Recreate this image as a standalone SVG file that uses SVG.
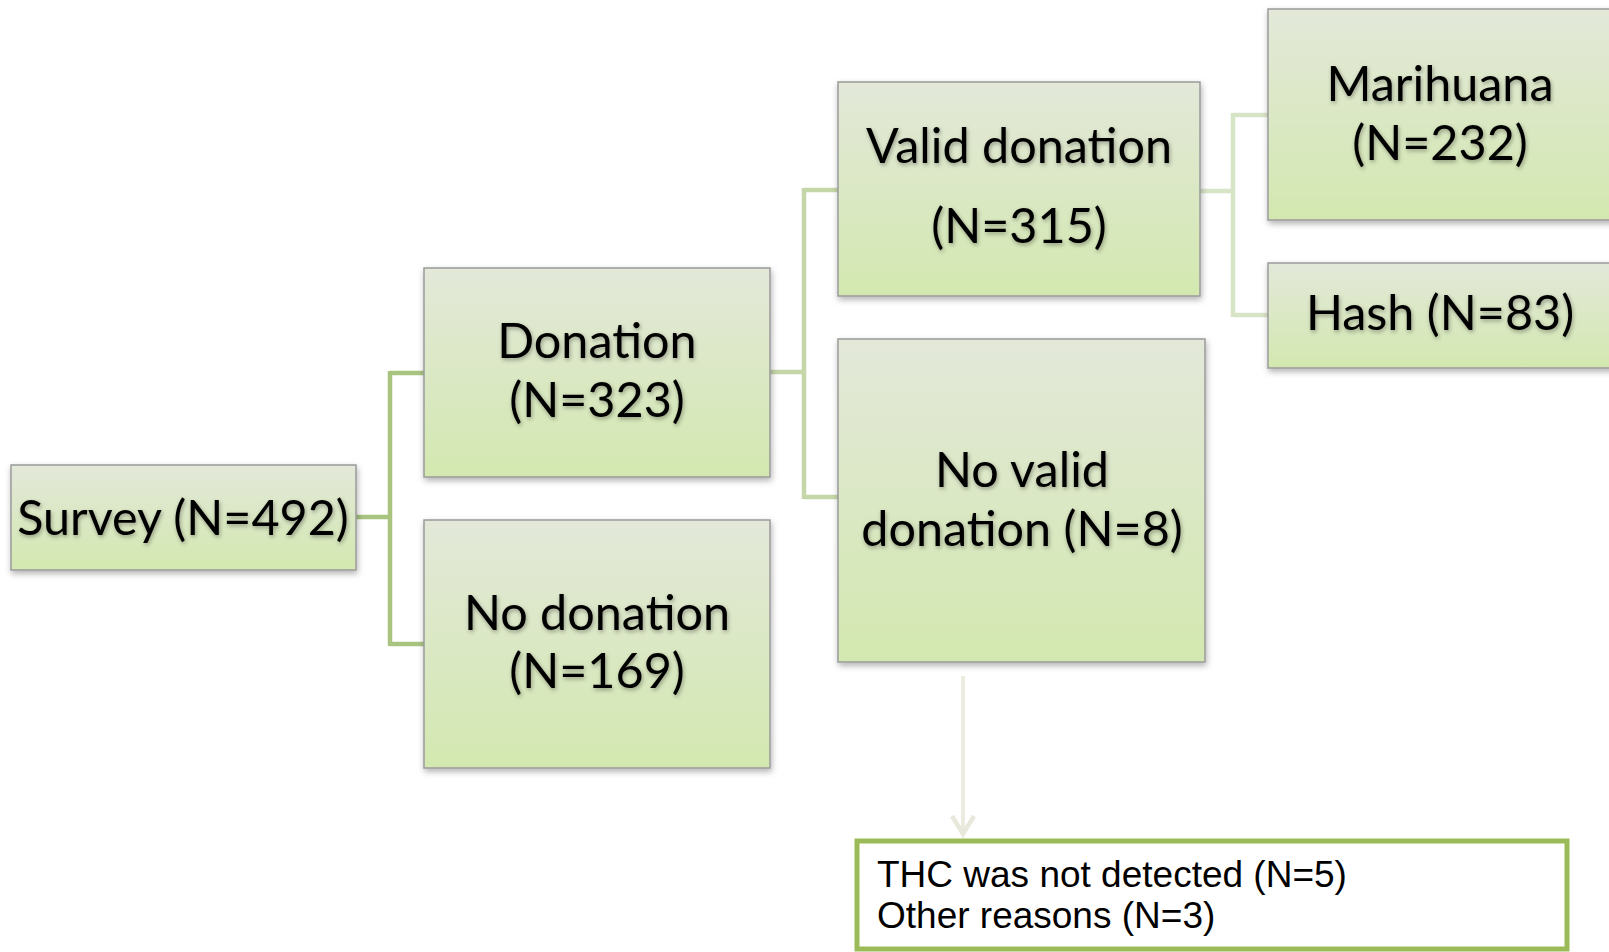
<svg xmlns="http://www.w3.org/2000/svg" width="1609" height="952" viewBox="0 0 1609 952">
<defs>
<linearGradient id="g" x1="0" y1="0" x2="0" y2="1">
<stop offset="0" stop-color="#e3e8d9"/>
<stop offset="1" stop-color="#d3e8b0"/>
</linearGradient>
<filter id="sh" x="-10%" y="-10%" width="120%" height="130%">
<feDropShadow dx="1" dy="3" stdDeviation="3" flood-color="#000" flood-opacity="0.3"/>
</filter>
<filter id="ts" x="-5%" y="-20%" width="110%" height="150%">
<feDropShadow dx="1" dy="2" stdDeviation="2" flood-color="#000" flood-opacity="0.35"/>
</filter>
<marker id="arr" viewBox="0 0 24 26" refX="21" refY="13" markerWidth="24" markerHeight="26" markerUnits="userSpaceOnUse" orient="auto">
<path d="M2,2 L20,13 L2,24" fill="none" stroke="#e9e8dc" stroke-width="4.5"/>
</marker>
</defs>
<style>
.box{fill:url(#g);stroke:#9a9a9a;stroke-width:1.5;filter:url(#sh)}
.t{font-family:Lato,"Open Sans",sans-serif;font-size:48.5px;fill:#000;text-anchor:middle;filter:url(#ts)}
.c1{fill:none;stroke:#a9c47f;stroke-width:4.5}
.c2{fill:none;stroke:#c5d7a8;stroke-width:4.5}
.c3{fill:none;stroke:#d8e4c6;stroke-width:4.5}
.note{font-family:"Liberation Sans",Arial,sans-serif;font-size:37px;fill:#000}
</style>
<rect width="1609" height="952" fill="#fff"/>
<g id="connectors">
<path class="c1" d="M356,517 H390 M390,371 V646 M390,373 H424 M390,644 H424"/>
<path class="c2" d="M770,372 H804 M804,188 V499 M804,190 H838 M804,497 H838"/>
<path class="c3" d="M1200,191 H1233 M1233,113 V317 M1233,115 H1268 M1233,315 H1268"/>
<path d="M963,676 V835" fill="none" stroke="#ecebdf" stroke-width="4" marker-end="url(#arr)"/>
</g>
<g id="survey">
<rect class="box" x="11" y="465" width="345" height="105"/>
<text class="t" x="183" y="535">Survey (N=492)</text>
</g>
<g id="donation">
<rect class="box" x="424" y="268" width="346" height="209"/>
<text class="t" x="597" y="358">Donation</text>
<text class="t" x="597" y="417">(N=323)</text>
</g>
<g id="no-donation">
<rect class="box" x="424" y="520" width="346" height="248"/>
<text class="t" x="597" y="630">No donation</text>
<text class="t" x="597" y="688">(N=169)</text>
</g>
<g id="valid-donation">
<rect class="box" x="838" y="82" width="362" height="214"/>
<text class="t" x="1019" y="163">Valid donation</text>
<text class="t" x="1019" y="243">(N=315)</text>
</g>
<g id="no-valid-donation">
<rect class="box" x="838" y="339" width="367" height="323"/>
<text class="t" x="1022" y="487">No valid</text>
<text class="t" x="1022" y="546">donation (N=8)</text>
</g>
<g id="marihuana">
<rect class="box" x="1268" y="9" width="350" height="211"/>
<text class="t" x="1440" y="101">Marihuana</text>
<text class="t" x="1440" y="160">(N=232)</text>
</g>
<g id="hash">
<rect class="box" x="1268" y="263" width="350" height="105"/>
<text class="t" x="1440" y="330">Hash (N=83)</text>
</g>
<g id="reasons">
<rect x="857" y="841" width="710" height="108" fill="#fff" stroke="#9bbb59" stroke-width="5"/>
<text class="note" x="877" y="887">THC was not detected (N=5)</text>
<text class="note" x="877" y="928">Other reasons (N=3)</text>
</g>
</svg>
